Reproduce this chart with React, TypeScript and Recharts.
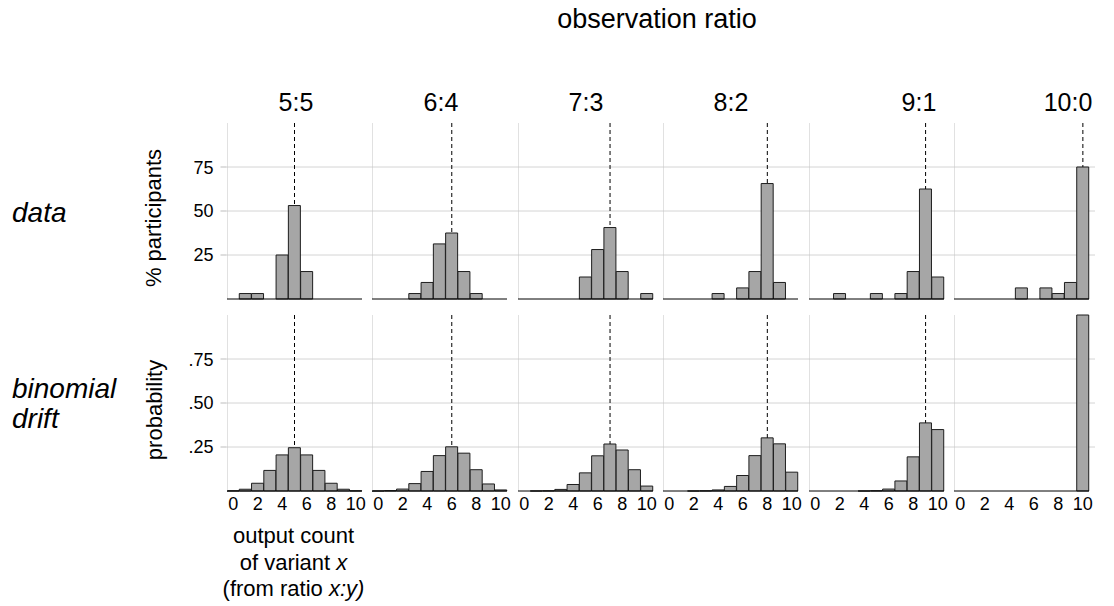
import React from 'react';
import { ComposedChart, Bar, XAxis, YAxis, ReferenceLine } from 'recharts';

// ---------- data ----------
const outputCounts = [0, 1, 2, 3, 4, 5, 6, 7, 8, 9, 10];
const ratioLabels = ['5:5', '6:4', '7:3', '8:2', '9:1', '10:0'];
const ratioCounts = [5, 6, 7, 8, 9, 10];

// % participants (data row)
const data55 = [0, 3.1, 3.1, 0, 25, 53.1, 15.6, 0, 0, 0, 0];
const data64 = [0, 0, 0, 3.1, 9.4, 31.3, 37.5, 15.6, 3.1, 0, 0];
const data73 = [0, 0, 0, 0, 0, 12.5, 28.1, 40.6, 15.6, 0, 3.1];
const data82 = [0, 0, 0, 0, 3.1, 0, 6.3, 15.6, 65.6, 9.4, 0];
const data91 = [0, 0, 3.1, 0, 0, 3.1, 0, 3.1, 15.6, 62.5, 12.5];
const data100 = [0, 0, 0, 0, 0, 6.3, 0, 6.3, 3.1, 9.4, 75];

// probability (binomial drift row)
const drift55 = [0.001, 0.01, 0.044, 0.117, 0.205, 0.246, 0.205, 0.117, 0.044, 0.01, 0.001];
const drift64 = [0.0001, 0.002, 0.011, 0.042, 0.111, 0.201, 0.251, 0.215, 0.121, 0.04, 0.006];
const drift73 = [0, 0.0001, 0.001, 0.009, 0.037, 0.103, 0.2, 0.267, 0.233, 0.121, 0.028];
const drift82 = [0, 0, 0.0001, 0.001, 0.006, 0.026, 0.088, 0.201, 0.302, 0.268, 0.107];
const drift91 = [0, 0, 0, 0, 0.0001, 0.0015, 0.011, 0.057, 0.194, 0.387, 0.349];
const drift100 = [0, 0, 0, 0, 0, 0, 0, 0, 0, 0, 1];

const yTicksPct = [25, 50, 75];
const yTickLabelsPct = ['25', '50', '75'];
const yTicksProb = [0.25, 0.5, 0.75];
const yTickLabelsProb = ['.25', '.50', '.75'];
const yMaxPct = 100;
const yMaxProb = 1;

const dataRow = [data55, data64, data73, data82, data91, data100];
const driftRow = [drift55, drift64, drift73, drift82, drift91, drift100];

// ---------- layout ----------
const FONT = '"Liberation Sans", Arial, Helvetica, sans-serif';
const PANEL_W = 135;
const PANEL_STEP = 145.5;
const FIRST_LEFT = 226.5;
const PLOT_H = 176;
const ROW_TOPS = [123, 315];
const GRID_RIGHT = 1095;
const titleCenters = [296, 441, 586, 731, 919, 1068];

// background: y tick labels + horizontal grid lines spanning all six panels
function GridRow({ row }: { row: number }) {
  const max = row === 0 ? yMaxPct : yMaxProb;
  const ticks = row === 0 ? yTicksPct : yTicksProb;
  const labels = row === 0 ? yTickLabelsPct : yTickLabelsProb;
  const vals = row === 0 ? dataRow[0] : driftRow[0];
  const topTick = ticks[ticks.length - 1];
  const gridH = (PLOT_H * topTick) / max;
  const plotTop = ROW_TOPS[row] + PLOT_H - gridH;
  const left = 150;
  const yAxisW = FIRST_LEFT - left;
  const width = GRID_RIGHT - left;
  return (
    <div style={{ position: 'absolute', left, top: plotTop - 10 }}>
      <ComposedChart
        width={width}
        height={gridH + 20}
        data={outputCounts.map((x, i) => ({ x, v: Math.min(vals[i], topTick) }))}
        margin={{ top: 10, right: 0, bottom: 10, left: 0 }}
      >
        <XAxis dataKey="x" hide />
        <YAxis
          width={yAxisW}
          type="number"
          domain={[0, topTick]}
          ticks={ticks}
          tickFormatter={(_v: number, i: number) => labels[i]}
          axisLine={false}
          tickLine={{ stroke: '#bdbdbd' }}
          tickSize={6}
          tickMargin={7}
          tick={{ fontSize: 18, fill: '#000', fontFamily: FONT }}
        />
        {ticks.map((t) => (
          <ReferenceLine key={t} y={t} stroke="#d4d4d4" strokeWidth={1} />
        ))}
        <Bar dataKey="v" fill="none" stroke="none" isAnimationActive={false} />
      </ComposedChart>
    </div>
  );
}

function Panel({ values, ratio, col, row }: { values: number[]; ratio: number; col: number; row: number }) {
  const rows = outputCounts.map((x, i) => ({ x, v: values[i] }));
  const max = row === 0 ? yMaxPct : yMaxProb;
  const top = ROW_TOPS[row];
  const axisH = row === 0 ? 2 : 30;
  const pad = 2;
  const extra = 12;
  const vAt = values[outputCounts.indexOf(ratio)];
  return (
    <div style={{ position: 'absolute', left: FIRST_LEFT + col * PANEL_STEP, top: top - pad }}>
      <ComposedChart
        width={PANEL_W + extra}
        height={pad + PLOT_H + axisH}
        data={rows}
        margin={{ top: pad, right: extra, bottom: 0, left: 0 }}
        barCategoryGap={0}
        barGap={0}
      >
        <XAxis
          dataKey="x"
          type="category"
          interval={1}
          tickLine={false}
          tickSize={4}
          height={axisH}
          axisLine={{ stroke: '#000', strokeWidth: 1 }}
          tick={row === 1 ? { fontSize: 18, fill: '#000', fontFamily: FONT } : false}
        />
        <YAxis width={0} type="number" domain={[0, max]} tick={false} tickLine={false} axisLine={false} />
        <ReferenceLine x={outputCounts[0]} position="start" stroke="#c4c4c4" strokeWidth={1} />
        <ReferenceLine
          segment={[{ x: ratio, y: max }, { x: ratio, y: vAt }]}
          stroke="#000"
          strokeWidth={1}
          strokeDasharray="4 3"
        />
        <Bar dataKey="v" fill="#a6a6a6" stroke="#1e1e1e" strokeWidth={1} isAnimationActive={false} />
      </ComposedChart>
    </div>
  );
}

export default function App() {
  return (
    <div
      style={{
        position: 'absolute',
        left: 0,
        top: 0,
        width: 1114,
        height: 606,
        background: '#fff',
        fontFamily: FONT,
        overflow: 'hidden',
      }}
    >
      <GridRow row={0} />
      <GridRow row={1} />
      {dataRow.map((vals, c) => (
        <Panel key={'d' + c} values={vals} ratio={ratioCounts[c]} col={c} row={0} />
      ))}
      {driftRow.map((vals, c) => (
        <Panel key={'b' + c} values={vals} ratio={ratioCounts[c]} col={c} row={1} />
      ))}
      <svg
        width={1114}
        height={606}
        style={{ position: 'absolute', left: 0, top: 0, pointerEvents: 'none' }}
        fontFamily={FONT}
      >
        <text x={657} y={28} textAnchor="middle" fontSize={27} fill="#000">
          observation ratio
        </text>
        {ratioLabels.map((lab, i) => (
          <text key={lab} x={titleCenters[i]} y={111} textAnchor="middle" fontSize={25} fill="#000">
            {lab}
          </text>
        ))}
        <text x={12} y={222} fontSize={28} fontStyle="italic" fill="#000">
          data
        </text>
        <text x={12} y={398} fontSize={28} fontStyle="italic" fill="#000">
          binomial
        </text>
        <text x={12} y={428} fontSize={28} fontStyle="italic" fill="#000">
          drift
        </text>
        <text x={161} y={218} fontSize={22} textAnchor="middle" fill="#000" transform="rotate(-90 161 218)">
          % participants
        </text>
        <text x={162} y={410} fontSize={22} textAnchor="middle" fill="#000" transform="rotate(-90 162 410)">
          probability
        </text>
        <text x={293.5} y={543} fontSize={22} textAnchor="middle" fill="#000">
          output count
        </text>
        <text x={293.5} y={570} fontSize={22} textAnchor="middle" fill="#000">
          of variant <tspan fontStyle="italic">x</tspan>
        </text>
        <text x={293.5} y={596} fontSize={22} textAnchor="middle" fill="#000">
          (from ratio <tspan fontStyle="italic">x:y)</tspan>
        </text>
      </svg>
    </div>
  );
}
